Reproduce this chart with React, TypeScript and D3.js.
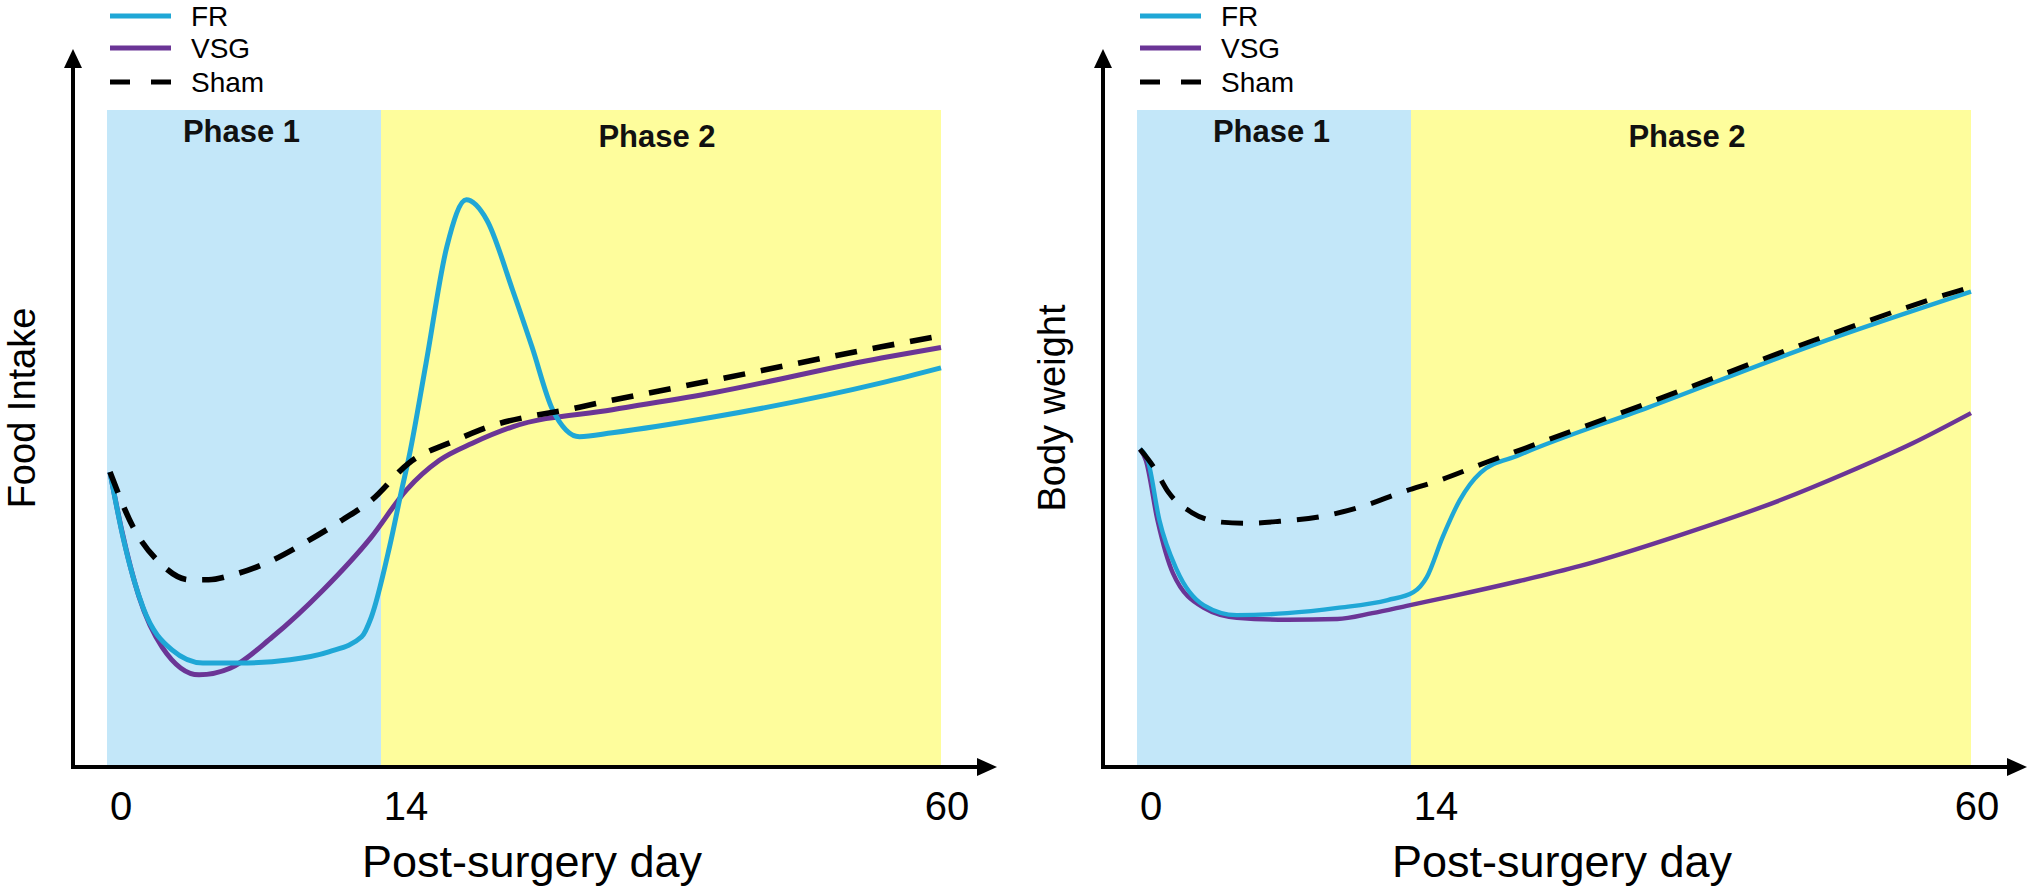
import React from 'react';
import { scaleLinear, line as d3Line, curveMonotoneX } from 'd3';

type Pt = [number, number]; // [post-surgery day, arbitrary units]

// ---- data (schematic units 0..100) ----
const tickDays = [0, 14, 60];
const phaseBounds = [0, 14, 60];
const phaseNames = ['Phase 1', 'Phase 2'];
const seriesNames = ['FR', 'VSG', 'Sham'];
const xTitle = 'Post-surgery day';
const yTitles = ['Food Intake', 'Body weight'];

const foodFR: Pt[] = [
  [0, 44.8], [0.7, 34.5], [1.7, 24.2], [3.2, 17.7], [4.8, 15.7], [6.7, 15.7],
  [9.3, 16.2], [11.3, 17.4], [13, 19.7], [13.5, 22.7], [14.7, 33.4], [15.7, 42.1],
  [16.3, 47.1], [17.7, 61.4], [19.4, 79.1], [21, 86.3], [22.7, 83.2], [24.8, 72.6],
  [26.4, 63.9], [28.1, 54.3], [30.3, 50.2], [33, 50.8], [41.3, 53.2], [55.1, 58.4],
  [60, 60.7],
];
const foodVSG: Pt[] = [
  [0, 44.8], [0.6, 36], [1.5, 25.8], [2.7, 18.1], [4.6, 13.9], [6.2, 14.9],
  [8.4, 19.7], [11, 26.8], [13.5, 34.9], [16.1, 42.1], [18.8, 46.6], [21.5, 49.2],
  [24.8, 51.7], [33, 54.3], [41.3, 56.9], [55.1, 62.2], [60, 63.8],
];
const foodSham: Pt[] = [
  [0, 44.8], [1.2, 36.4], [2.6, 30.9], [4.1, 28.4], [5.1, 28.4], [6.3, 29.1],
  [8.2, 31.1], [10.1, 34.1], [12, 37.5], [13.5, 40.5], [16.3, 46.2], [20.2, 49.7],
  [22.1, 51.2], [30.3, 54.7], [41.3, 58.8], [55.1, 63.9], [60, 65.6],
];

const bodyFR: Pt[] = [
  [0, 48.3], [0.4, 46.6], [1, 37.5], [1.9, 29.9], [3.3, 24.5], [5, 23],
  [7.6, 23.3], [10.2, 24.1], [12.8, 25.3], [14.2, 26.5], [15.3, 28.8], [16.6, 34.9],
  [18, 40.5], [19.7, 44.7], [22.9, 47.4], [33.4, 54.6], [47.1, 64.2], [60, 72.3],
];
const bodyVSG: Pt[] = [
  [0, 48.3], [0.3, 46.6], [0.9, 37.5], [1.7, 29.4], [3.3, 24.1], [5, 22.6],
  [7.6, 22.3], [10.2, 22.4], [12, 23.3], [13.9, 24.5], [17.4, 25.9], [22.9, 28.2],
  [27.9, 30.5], [36.1, 35.2], [44.3, 40.5], [49.8, 44.7], [55.2, 49.2], [60, 53.8],
];
const bodySham: Pt[] = [
  [0, 48.3], [0.7, 45.6], [1.5, 41.6], [2.7, 38.6], [4.1, 37.2], [5.5, 37],
  [7.2, 37.3], [9.3, 38], [11.4, 39.5], [13.6, 41.8], [16.4, 43.6], [20.2, 46.3],
  [23, 48.2], [33.4, 55.3], [47.1, 64.9], [58.9, 72.4], [60, 73],
];

// ---- styling ----
const FONT = '"Liberation Sans", Arial, Helvetica, sans-serif';
const C_FR = '#1fa7d6';
const C_VSG = '#6b3596';
const C_SHAM = '#000';
const C_BLUE = '#c3e7f9';
const C_YELLOW = '#fefd9c';
const colors = [C_FR, C_VSG, C_SHAM];

const W = 2030;
const H = 893;

interface PanelProps {
  ox: number;
  yTitle: string;
  series: Pt[][];
  lw: number;
}

function Panel({ ox, yTitle, series, lw }: PanelProps) {
  // schematic axis: phase 1 is stretched relative to phase 2
  const x = scaleLinear().domain(phaseBounds).range([110 + ox, 381 + ox, 941 + ox]);
  const y = scaleLinear().domain([0, 100]).range([766, 110]);

  const axisX = 73 + ox;
  const axisY = 767;
  const arrowX = 997 + ox;
  const arrowY = 49;

  const path = d3Line<Pt>()
    .x(d => x(d[0]))
    .y(d => y(d[1]))
    .curve(curveMonotoneX);

  const tickDx = [11, 25, 6];
  const legendY = [16, 48, 82];

  return (
    <g>
      {/* phase backgrounds */}
      <rect x={x(0) - 3} y={y(100)} width={x(14) - x(0) + 3} height={axisY - y(100)} fill={C_BLUE} />
      <rect x={x(14)} y={y(100)} width={x(60) - x(14)} height={axisY - y(100)} fill={C_YELLOW} />
      {phaseNames.map((p, i) => (
        <text
          key={p}
          x={(x(phaseBounds[i]) + x(phaseBounds[i + 1])) / 2 - 4}
          y={142 + i * 5}
          textAnchor="middle"
          fontFamily={FONT}
          fontWeight="bold"
          fontSize={31}
          fill="#111"
        >
          {p}
        </text>
      ))}

      {/* curves: FR, VSG, Sham (sham drawn on top) */}
      {[1, 0, 2].map(i => (
        <path
          key={i}
          d={path(series[i]) || ''}
          fill="none"
          stroke={colors[i]}
          strokeWidth={i === 2 ? lw + 0.6 : lw}
          strokeDasharray={i === 2 ? '22 16' : undefined}
          strokeLinejoin="round"
        />
      ))}

      {/* axes with arrows */}
      <line x1={axisX} x2={axisX} y1={arrowY + 10} y2={axisY + 2} stroke="#000" strokeWidth={4} />
      <line x1={axisX - 2} x2={arrowX - 10} y1={axisY} y2={axisY} stroke="#000" strokeWidth={4} />
      <path d={`M${axisX},${arrowY} L${axisX - 9},${arrowY + 19} L${axisX + 9},${arrowY + 19} Z`} fill="#000" />
      <path d={`M${arrowX},${axisY} L${arrowX - 20},${axisY - 9} L${arrowX - 20},${axisY + 9} Z`} fill="#000" />

      {/* tick labels */}
      {tickDays.map((t, i) => (
        <text
          key={t}
          x={x(t) + tickDx[i]}
          y={820}
          textAnchor="middle"
          fontFamily={FONT}
          fontSize={40}
          fill="#000"
        >
          {t}
        </text>
      ))}

      {/* axis titles */}
      <text x={532 + ox} y={877} textAnchor="middle" fontFamily={FONT} fontSize={45} fill="#000">
        {xTitle}
      </text>
      <text
        transform={`translate(${35 + ox},408) rotate(-90)`}
        textAnchor="middle"
        fontFamily={FONT}
        fontSize={38}
        fill="#000"
      >
        {yTitle}
      </text>

      {/* legend */}
      {seriesNames.map((n, i) => (
        <g key={n}>
          <line
            x1={110 + ox}
            x2={171 + ox}
            y1={legendY[i]}
            y2={legendY[i]}
            stroke={colors[i]}
            strokeWidth={5}
            strokeDasharray={i === 2 ? '20 21' : undefined}
          />
          <text x={191 + ox} y={legendY[i]} dy="0.36em" fontFamily={FONT} fontSize={28} fill="#000">
            {n}
          </text>
        </g>
      ))}
    </g>
  );
}

export default function App() {
  return (
    <div style={{ position: 'absolute', left: 0, top: 0, width: W, height: H, background: '#fff' }}>
      <svg width={W} height={H} viewBox={`0 0 ${W} ${H}`} style={{ display: 'block' }}>
        <rect width={W} height={H} fill="#fff" />
        <Panel ox={0} yTitle={yTitles[0]} series={[foodFR, foodVSG, foodSham]} lw={5} />
        <Panel ox={1030} yTitle={yTitles[1]} series={[bodyFR, bodyVSG, bodySham]} lw={4.4} />
      </svg>
    </div>
  );
}
